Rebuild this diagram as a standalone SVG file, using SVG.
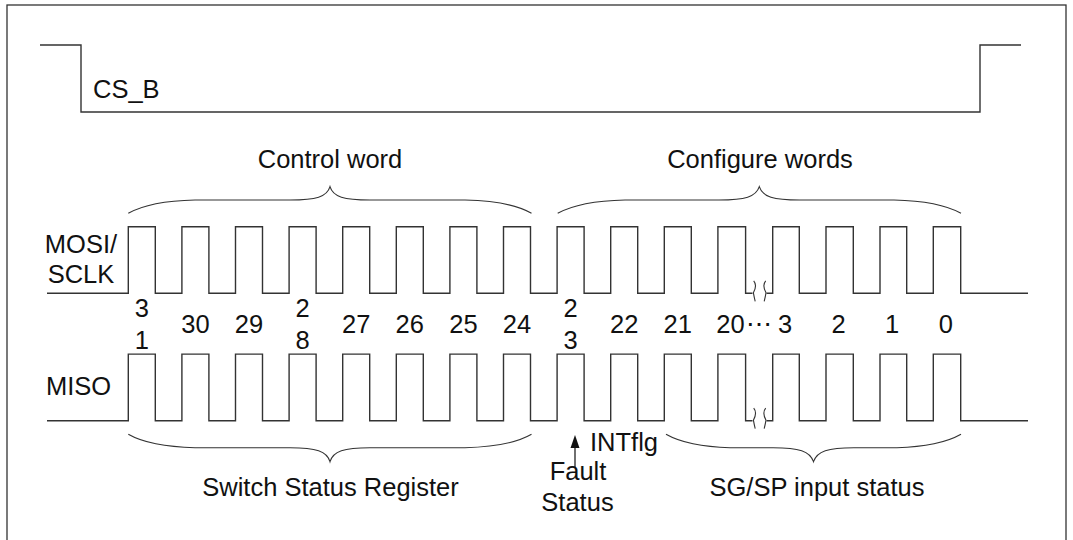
<svg xmlns="http://www.w3.org/2000/svg" width="1073" height="540" viewBox="0 0 1073 540">
<style>
  .ln{fill:none;stroke:#333;stroke-width:1.4;stroke-linejoin:miter}
  .br{fill:none;stroke:#333;stroke-width:1.1}
  text{font-family:"Liberation Sans",Arial,sans-serif;font-size:25.5px;fill:#111}
  .c{text-anchor:middle}
</style>
<defs>
  <path id="pulses" d="M47,0 H128.3 V-66.6 H155.3 V0 H181.9 V-66.6 H208.9 V0 H235.5 V-66.6 H262.5 V0 H289.1 V-66.6 H316.1 V0 H342.7 V-66.6 H369.7 V0 H396.3 V-66.6 H423.3 V0 H449.9 V-66.6 H476.9 V0 H503.5 V-66.6 H530.5 V0 H557.1 V-66.6 H584.1 V0 H610.7 V-66.6 H637.7 V0 H664.3 V-66.6 H691.3 V0 H717.9 V-66.6 H745.6 V0 H752.5 M766.5,0 H772.7 V-66.6 H799.3 V0 H826 V-66.6 H853.3 V0 H880 V-66.6 H906.7 V0 H933.3 V-66.6 H960.7 V0 H1028"/>
  <path id="brk" d="M753.7,-12.5 Q757.5,-8 753.4,-0.5 Q754.2,4 755.2,8 M765.7,-12.5 Q761.9,-8 766,-0.5 Q765.2,4 764.2,8"/>
</defs>
<rect x="7" y="5" width="1059" height="545" fill="none" stroke="#333" stroke-width="1.3"/>
<g id="cs_b">
  <path class="ln" d="M40,45 H81 V112 H980 V45 H1021"/>
  <text x="93" y="98">CS_B</text>
</g>
<g id="mosi">
  <text class="c" x="81" y="253">MOSI/</text>
  <text class="c" x="81" y="283">SCLK</text>
  <use href="#pulses" class="ln" transform="translate(0,293.3)"/>
  <use href="#brk" class="br" transform="translate(0,293.3)"/>
</g>
<g id="miso">
  <text x="46" y="395">MISO</text>
  <use href="#pulses" class="ln" transform="translate(0,420.7)"/>
  <use href="#brk" class="br" transform="translate(0,420.7)"/>
</g>
<g id="bits">
  <text class="c" x="141.8" y="317">3</text><text class="c" x="141.8" y="348.5">1</text>
  <text class="c" x="195.4" y="333">30</text>
  <text class="c" x="249" y="333">29</text>
  <text class="c" x="302.6" y="317">2</text><text class="c" x="302.6" y="348.5">8</text>
  <text class="c" x="356.2" y="333">27</text>
  <text class="c" x="409.8" y="333">26</text>
  <text class="c" x="463.4" y="333">25</text>
  <text class="c" x="517" y="333">24</text>
  <text class="c" x="570.6" y="317">2</text><text class="c" x="570.6" y="348.5">3</text>
  <text class="c" x="624.2" y="333">22</text>
  <text class="c" x="677.8" y="333">21</text>
  <text class="c" x="730.5" y="333">20</text>
  <text class="c" x="759" y="333">⋯</text>
  <text class="c" x="785" y="333">3</text>
  <text class="c" x="838.6" y="333">2</text>
  <text class="c" x="892.2" y="333">1</text>
  <text class="c" x="945.8" y="333">0</text>
</g>
<g id="control_word">
  <path class="br" d="M128.3,213.3 Q150,201 195,200 L290,200 C316,200 327,197 330,186.7 C333,197 344,200 370,200 L465,200 Q510,201 531.5,213.3"/>
  <text class="c" x="330" y="168">Control word</text>
</g>
<g id="configure_words">
  <path class="br" d="M557.7,213.3 Q580,201 625,200 L719,200 C745,200 756,197 759.3,186.7 C762.6,197 773.6,200 799.6,200 L894,200 Q939,201 961,213.3"/>
  <text class="c" x="760" y="168">Configure words</text>
</g>
<g id="switch_status">
  <path class="br" d="M128.3,434.3 Q150,446.7 195,447.7 L290,447.7 C316,447.7 327,451 330,461.7 C333,451 344,447.7 370,447.7 L465,447.7 Q510,446.7 531.5,434.3"/>
  <text class="c" x="330.5" y="496">Switch Status Register</text>
</g>
<g id="sg_sp_status">
  <path class="br" d="M666,434.3 Q688,446.7 730,447.7 L773,447.7 C799,447.7 810,451 813.5,461.7 C817,451 828,447.7 854,447.7 L897,447.7 Q939,446.7 961,434.3"/>
  <text class="c" x="817" y="496">SG/SP input status</text>
</g>
<g id="fault_status">
  <line class="ln" x1="575" y1="467" x2="575" y2="446"/>
  <polygon points="575,435 570.5,448 579.5,448" fill="#111"/>
  <text x="590" y="451">INTflg</text>
  <text class="c" x="578" y="479.5">Fault</text>
  <text class="c" x="577.5" y="511">Status</text>
</g>
</svg>
